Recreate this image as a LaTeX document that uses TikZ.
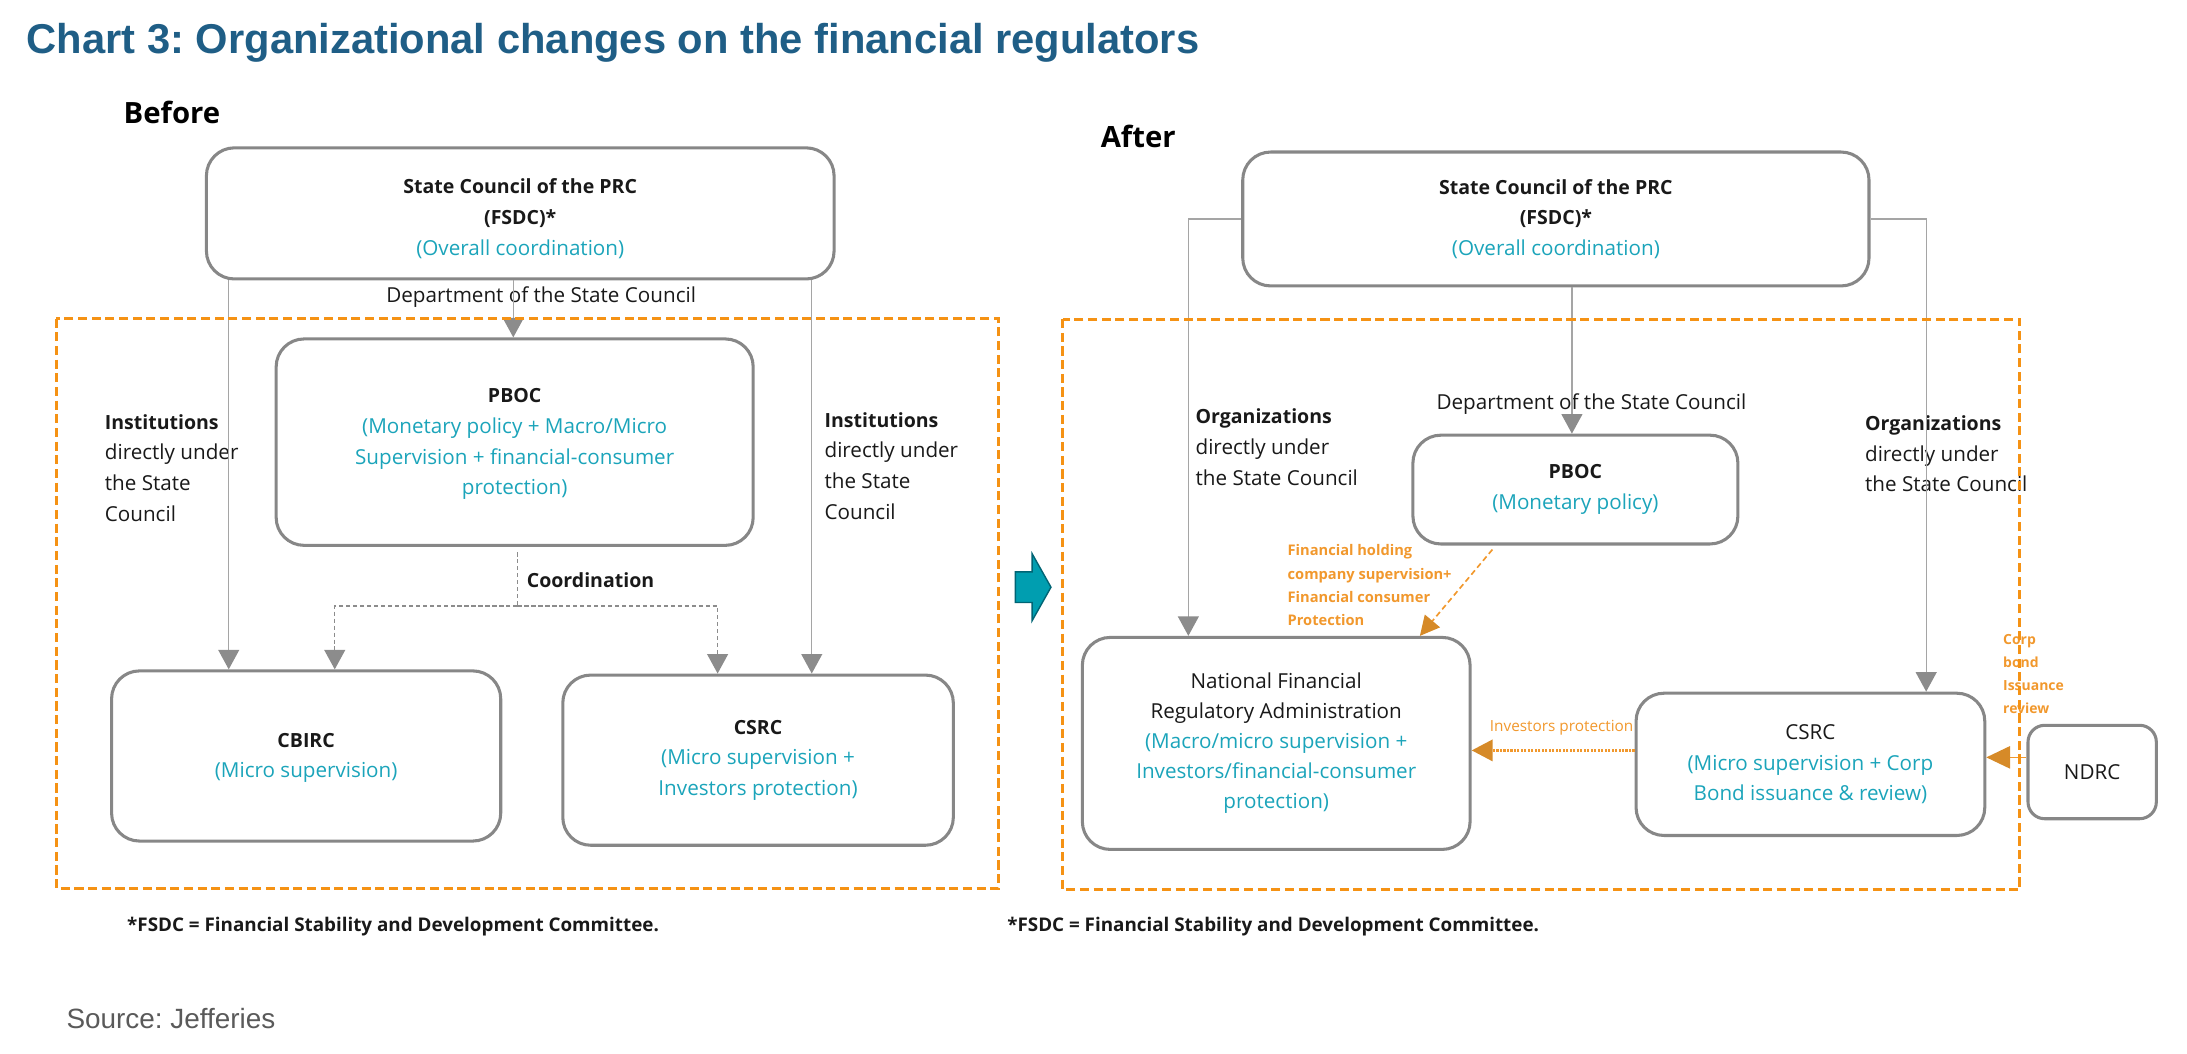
\documentclass[tikz,border=0pt]{standalone}
\usepackage{fontspec}
\setmainfont{Open Sans}
\newfontfamily\arialfont{Liberation Sans}
\usetikzlibrary{arrows.meta}
\frenchspacing
\definecolor{titleblue}{RGB}{31,94,134}
\definecolor{tcyan}{RGB}{27,164,186}
\definecolor{lorange}{RGB}{241,152,45}
\definecolor{dorange}{RGB}{214,138,40}
\definecolor{boxorange}{RGB}{245,146,20}
\definecolor{boxgray}{RGB}{135,135,135}
\definecolor{linegray}{RGB}{165,165,165}
\definecolor{headgray}{RGB}{140,140,140}
\definecolor{tealfill}{RGB}{0,158,176}
\definecolor{tealline}{RGB}{0,100,116}
\definecolor{srcgray}{RGB}{90,90,90}
\definecolor{txt}{RGB}{25,25,25}
\newcommand\bl[1]{{\fontsize{14}{22}\selectfont\bfseries #1}}
\newcommand\cy[1]{\textcolor{tcyan}{#1}}
\begin{document}
\begin{tikzpicture}[x=1pt,y=-1pt,
  box/.style={draw=boxgray, line width=2.2pt, rounded corners=20pt, align=center,
    inner sep=0pt, font=\fontsize{14.8}{22}\selectfont, text=txt},
  lbl/.style={inner sep=0pt, align=left, font=\fontsize{14.8}{22}\selectfont, text=txt},
  clbl/.style={inner sep=0pt, align=center, font=\fontsize{14.8}{22}\selectfont, text=txt},
  olbl/.style={inner sep=0pt, align=left, font=\fontsize{10.5}{16.6}\selectfont\bfseries, text=lorange},
  conn/.style={draw=linegray, line width=1pt, -{Triangle[width=15pt,length=14pt,color=headgray]}},
  coordline/.style={draw=linegray!85!black, line width=1pt, dash pattern=on 3pt off 2pt},
  coordarr/.style={coordline, -{Triangle[width=15pt,length=14pt,color=headgray]}},
  obox/.style={draw=boxorange, line width=2pt, dash pattern=on 6.5pt off 3.3pt},
  oarrow/.style={draw=lorange, line width=1.2pt, dash pattern=on 4pt off 2.5pt,
    -{Triangle[width=14pt,length=14pt,color=dorange]}},
  odotarrow/.style={draw=lorange, line width=2.5pt, dash pattern=on 1.5pt off 1pt,
    -{Triangle[width=15pt,length=15pt,color=dorange]}},
  osolidarrow/.style={draw=lorange, line width=1pt,
    -{Triangle[width=16pt,length=17pt,color=dorange]}}
]
\useasboundingbox (0,0) rectangle (1568,755);

% Title
\node[anchor=base west, inner sep=0pt, font=\arialfont\bfseries\fontsize{29.9}{34}\selectfont, text=titleblue]
  (title) at (19,38.5) {Chart 3: Organizational changes on the financial regulators};

% Headings
\node[anchor=base west, inner sep=0pt, font=\bfseries\fontsize{21}{25}\selectfont, text=black]
  (before) at (88.5,88.4) {Before};
\node[anchor=base west, inner sep=0pt, font=\bfseries\fontsize{21}{25}\selectfont, text=black]
  (after) at (789,105.6) {After};

% ---------------- BEFORE ----------------
\node[box, minimum width=450pt, minimum height=94pt] (sc1) at (373,153)
  {\rule{0pt}{18pt}\bl{State Council of the PRC}\\\bl{(FSDC)*}\\\cy{(Overall coordination)}};
\node[box, minimum width=342pt, minimum height=148pt] (pboc1) at (369,317)
  {\rule{0pt}{13pt}\bl{PBOC}\\\cy{(Monetary policy + Macro/Micro}\\\cy{Supervision + financial-consumer}\\\cy{protection)}};
\node[box, minimum width=279pt, minimum height=122pt] (cbirc) at (219.5,542)
  {\rule{0pt}{13pt}\bl{CBIRC}\\\cy{(Micro supervision)}};
\node[box, minimum width=280pt, minimum height=122pt] (csrc1) at (543.5,545)
  {\bl{CSRC}\\\cy{(Micro supervision +}\\\cy{Investors protection)}};

\node[clbl] (dept1) at (388,213) {Department of the State Council};
\node[lbl, anchor=west] (inst1) at (75,335.5)
  {\bl{Institutions}\\directly under\\the State\\Council};
\node[lbl, anchor=west] (inst2) at (591,334)
  {\bl{Institutions}\\directly under\\the State\\Council};
\node[lbl, anchor=west] (coordlbl) at (377.5,416) {\bl{Coordination}};

\draw[conn] (sc1.south -| 164,0) -- (cbirc.north -| 164,0);
\draw[conn] (sc1.south -| 582,0) -- (csrc1.north -| 582,0);
\draw[conn] (sc1.south -| 368,0) -- (pboc1.north -| 368,0);
\coordinate (cj) at (371,434.5);
\draw[coordline] (371,396) -- (cj);
\draw[coordarr] (cj) -| (cbirc.north -| 240,0);
\draw[coordarr] (cj) -| (csrc1.north -| 514.5,0);

\draw[obox] (40.5,228.5) rectangle (716,637);

% transition arrow
\draw[fill=tealfill, draw=tealline, line width=1pt, line join=miter]
  (728,410) -- (740,410) -- (740,397) -- (753.5,421) -- (740,445) -- (740,432) -- (728,432) -- cycle;

% ---------------- AFTER ----------------
\node[box, minimum width=449pt, minimum height=96pt] (sc2) at (1115.5,157)
  {\bl{State Council of the PRC}\\\bl{(FSDC)*}\\\cy{(Overall coordination)}};
\node[box, minimum width=233pt, minimum height=78pt] (pboc2) at (1129.5,351)
  {\bl{PBOC}\\\cy{(Monetary policy)}};
\node[box, minimum width=278pt, minimum height=152pt, font=\fontsize{14.8}{21.5}\selectfont] (nfra) at (915,533)
  {National Financial\\Regulatory Administration\\\cy{(Macro/micro supervision +}\\\cy{Investors/financial-consumer}\\\cy{protection)}};
\node[box, minimum width=250pt, minimum height=102pt] (csrc2) at (1298,548)
  {CSRC\\\cy{(Micro supervision + Corp}\\\cy{Bond issuance \& review)}};
\node[box, minimum width=92pt, minimum height=67pt, rounded corners=12pt] (ndrc) at (1500,553.5) {NDRC};

\node[clbl] (dept2) at (1141,290) {Department of the State Council};
\node[lbl, anchor=west] (org1) at (857,320.5)
  {\bl{Organizations}\\directly under\\the State Council};
\node[lbl, anchor=west] (org2) at (1337,325.4)
  {\bl{Organizations}\\directly under\\the State Council};

\draw[conn] (sc2.west) -| (nfra.north -| 852,0);
\draw[conn] (sc2.east) -| (csrc2.north -| 1381,0);
\draw[conn] (sc2.south -| 1127,0) -- (pboc2.north -| 1127,0);

\node[olbl, anchor=west] (holdlbl) at (923,419.5)
  {Financial holding\\company supervision+\\Financial consumer\\Protection};
\draw[oarrow] (1070,394) -- (nfra.north -| 1018,0);

\node[inner sep=0pt, anchor=west, font=\fontsize{11}{14}\selectfont, text=lorange] (invlbl) at (1068,522) {Investors protection};
\draw[odotarrow] (csrc2.west |- 0,538) -- (nfra.east |- 0,538);

\node[olbl, anchor=west, font=\fontsize{10}{16.5}\selectfont\bfseries] (corplbl) at (1436,483)
  {Corp\\bond\\Issuance\\review};
\draw[osolidarrow] (ndrc.west |- 0,543) -- (csrc2.east |- 0,543);

\draw[obox] (762,228.8) rectangle (1448,638);

% Footnotes
\node[inner sep=0pt, anchor=west, font=\fontsize{13.5}{16}\selectfont\bfseries, text=txt] (fn1) at (91,664)
  {*FSDC = Financial Stability and Development Committee.};
\node[inner sep=0pt, anchor=west, font=\fontsize{13.5}{16}\selectfont\bfseries, text=txt] (fn2) at (722,664)
  {*FSDC = Financial Stability and Development Committee.};

\node[inner sep=0pt, anchor=west, font=\arialfont\fontsize{20}{24}\selectfont, text=srcgray] (src) at (47.5,730)
  {Source: Jefferies};
\end{tikzpicture}
\end{document}
